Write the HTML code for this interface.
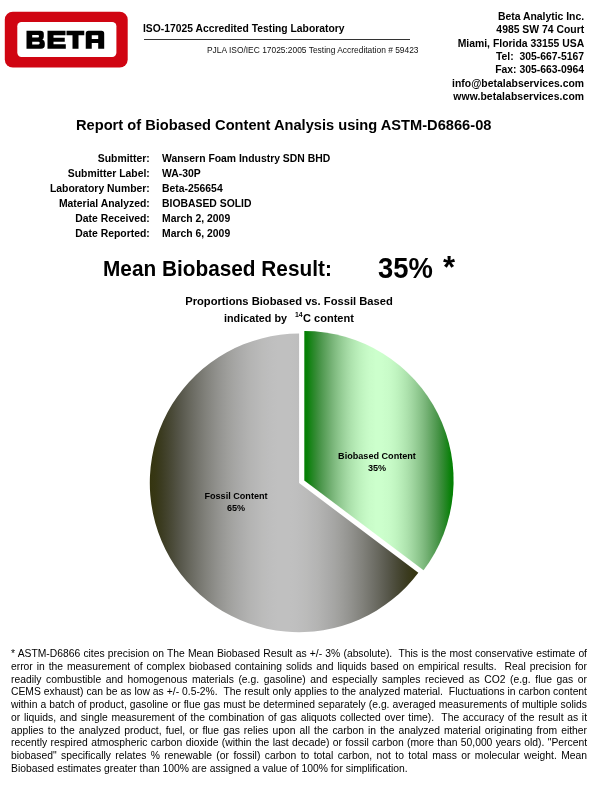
<!DOCTYPE html>
<html><head><meta charset="utf-8">
<style>
html,body{margin:0;padding:0;background:#fff;}
body{width:600px;height:800px;position:relative;overflow:hidden;font-family:"Liberation Sans",sans-serif;color:#000;}
.a{position:absolute;white-space:nowrap;line-height:1;will-change:transform;}
.b{font-weight:bold;}
.r{text-align:right;}
#fn{will-change:transform;position:absolute;left:11px;top:647.6px;width:576px;font-size:10.33px;line-height:12.77px;color:#000;}
#fn div{text-align:justify;text-align-last:justify;white-space:normal;height:12.77px;overflow:visible;}
</style></head><body>
<!-- logo -->
<svg class="a" style="left:0;top:0;" width="140" height="80" viewBox="0 0 140 80">
<rect x="4.8" y="11.7" width="122.9" height="55.8" rx="8" ry="8" fill="#d00512"/>
<rect x="17.3" y="22" width="99.1" height="35" rx="4.2" ry="4.2" fill="#fff"/>
<g fill="#000" fill-rule="evenodd">
<path d="M26.5,30.75 H40.3 Q43.8,30.75 43.8,34 V36.6 Q43.8,38.9 42.3,39.5 Q44.8,40.2 44.8,43 V45 Q44.8,48.75 41,48.75 H26.5 Z M32.2,35 H38 Q39,35 39,36.3 Q39,37.6 38,37.6 H32.2 Z M32.2,41.8 H38.5 Q39.7,41.8 39.7,43.1 Q39.7,44.4 38.5,44.4 H32.2 Z"/>
<path d="M47.5,30.75 H65.5 V35.25 H53.5 V37.8 H64.75 V41.7 H53.5 V44.25 H65.8 V48.75 H47.5 Z"/>
<path d="M66.5,30.75 H84.25 V35.25 H78.5 V48.75 H72.5 V35.25 H66.5 Z"/>
<path d="M85.75,48.75 V33.5 Q85.75,30.75 88.5,30.75 H101.5 Q104.2,30.75 104.2,33.5 V48.75 H98.2 V42.9 H91.75 V48.75 Z M91.75,35.25 H98.2 V39.1 H91.75 Z"/>
</g>
</svg>

<div class="a b" id="iso" style="left:143.2px;top:23.5px;font-size:10.33px;transform-origin:50% 84.65%;transform:scaleY(1.04);">ISO-17025 Accredited Testing Laboratory</div>
<div class="a" style="left:143.6px;top:39px;width:266.4px;height:1px;background:#333;"></div>
<div class="a" id="pjla" style="left:206.6px;top:45.6px;font-size:8.42px;color:#111;transform-origin:50% 84.65%;transform:scaleY(1.04);">PJLA ISO/IEC 17025:2005 Testing Accreditation # 59423</div>

<div class="a b r" id="addr" style="right:15.8px;top:10.46px;font-size:10.4px;line-height:13.33px;">Beta Analytic Inc.<br>4985 SW 74 Court<br>Miami, Florida 33155 USA<br>Tel:&nbsp; 305-667-5167<br>Fax: 305-663-0964<br><span style="letter-spacing:0.03px">info@betalabservices.com</span><br><span style="letter-spacing:0.08px">www.betalabservices.com</span></div>

<div class="a b" id="title" style="left:75.8px;top:118.4px;font-size:14.65px;transform-origin:50% 84.65%;transform:scaleY(1.04);">Report of Biobased Content Analysis using ASTM-D6866-08</div>

<div class="a b r" id="labels" style="left:0;width:149.8px;top:150.7px;font-size:10.4px;line-height:15.09px;">Submitter:<br>Submitter Label:<br>Laboratory Number:<br>Material Analyzed:<br>Date Received:<br>Date Reported:</div>
<div class="a b" id="vals" style="left:162.2px;top:150.7px;font-size:10.4px;line-height:15.09px;">Wansern Foam Industry SDN BHD<br>WA-30P<br>Beta-256654<br>BIOBASED SOLID<br>March 2, 2009<br>March 6, 2009</div>

<div class="a b" id="mean" style="left:102.9px;top:259px;font-size:20.8px;transform-origin:50% 84.65%;transform:scaleY(1.04);">Mean Biobased Result:</div>
<div class="a b" id="pct" style="left:378px;top:252.8px;font-size:27.4px;transform-origin:0 3.4px;transform:scaleY(1.08);">35%</div>
<div class="a b" id="ast" style="left:443.4px;top:252.2px;font-size:31px;">*</div>

<div class="a b" id="ct1" style="left:139px;width:300px;text-align:center;top:296.1px;font-size:11.2px;transform-origin:50% 84.65%;transform:scaleY(1.04);">Proportions Biobased vs. Fossil Based</div>
<div class="a b" id="ct2a" style="left:223.8px;top:312.7px;font-size:10.8px;transform-origin:50% 84.65%;transform:scaleY(1.04);">indicated by</div>
<div class="a b" id="ct2b" style="left:294.7px;top:311.8px;font-size:6.9px;">14</div>
<div class="a b" id="ct2c" style="left:303px;top:312.5px;font-size:11.05px;transform-origin:50% 84.65%;transform:scaleY(1.04);">C content</div>

<svg class="a" style="left:0;top:0;" width="600" height="800" viewBox="0 0 600 800">
<defs>
<linearGradient id="gg" gradientUnits="userSpaceOnUse" x1="149.8" y1="0" x2="418.4" y2="0">
<stop offset="0.0000" stop-color="#353510"/>
<stop offset="0.0208" stop-color="#373715"/>
<stop offset="0.0417" stop-color="#3b3b20"/>
<stop offset="0.0625" stop-color="#42422c"/>
<stop offset="0.0833" stop-color="#4a4a38"/>
<stop offset="0.1042" stop-color="#535345"/>
<stop offset="0.1250" stop-color="#5c5c51"/>
<stop offset="0.1458" stop-color="#66665c"/>
<stop offset="0.1667" stop-color="#6f6f67"/>
<stop offset="0.1875" stop-color="#787871"/>
<stop offset="0.2083" stop-color="#81817b"/>
<stop offset="0.2292" stop-color="#898984"/>
<stop offset="0.2500" stop-color="#91918d"/>
<stop offset="0.2708" stop-color="#989895"/>
<stop offset="0.2917" stop-color="#9f9f9c"/>
<stop offset="0.3125" stop-color="#a5a5a3"/>
<stop offset="0.3333" stop-color="#aaaaa9"/>
<stop offset="0.3542" stop-color="#afafae"/>
<stop offset="0.3750" stop-color="#b4b4b3"/>
<stop offset="0.3958" stop-color="#b7b7b7"/>
<stop offset="0.4167" stop-color="#bbbbba"/>
<stop offset="0.4375" stop-color="#bdbdbd"/>
<stop offset="0.4583" stop-color="#bfbfbf"/>
<stop offset="0.4792" stop-color="#c0c0c0"/>
<stop offset="0.5000" stop-color="#c0c0c0"/>
<stop offset="0.5000" stop-color="#c0c0c0"/>
<stop offset="0.5208" stop-color="#c0c0c0"/>
<stop offset="0.5417" stop-color="#bfbfbf"/>
<stop offset="0.5625" stop-color="#bdbdbd"/>
<stop offset="0.5833" stop-color="#bbbbba"/>
<stop offset="0.6042" stop-color="#b7b7b7"/>
<stop offset="0.6250" stop-color="#b4b4b3"/>
<stop offset="0.6458" stop-color="#afafae"/>
<stop offset="0.6667" stop-color="#aaaaa9"/>
<stop offset="0.6875" stop-color="#a5a5a3"/>
<stop offset="0.7083" stop-color="#9f9f9c"/>
<stop offset="0.7292" stop-color="#989895"/>
<stop offset="0.7500" stop-color="#91918d"/>
<stop offset="0.7708" stop-color="#898984"/>
<stop offset="0.7917" stop-color="#81817b"/>
<stop offset="0.8125" stop-color="#787871"/>
<stop offset="0.8333" stop-color="#6f6f67"/>
<stop offset="0.8542" stop-color="#66665c"/>
<stop offset="0.8750" stop-color="#5c5c51"/>
<stop offset="0.8958" stop-color="#535345"/>
<stop offset="0.9167" stop-color="#4a4a38"/>
<stop offset="0.9375" stop-color="#42422c"/>
<stop offset="0.9583" stop-color="#3b3b20"/>
<stop offset="0.9792" stop-color="#373715"/>
<stop offset="1.0000" stop-color="#353510"/>
</linearGradient>
<linearGradient id="gr" gradientUnits="userSpaceOnUse" x1="304.3" y1="0" x2="453.6" y2="0">
<stop offset="0.0000" stop-color="#008000"/>
<stop offset="0.0208" stop-color="#098109"/>
<stop offset="0.0417" stop-color="#1a841a"/>
<stop offset="0.0625" stop-color="#2a882a"/>
<stop offset="0.0833" stop-color="#398d39"/>
<stop offset="0.1042" stop-color="#479447"/>
<stop offset="0.1250" stop-color="#549c54"/>
<stop offset="0.1458" stop-color="#60a460"/>
<stop offset="0.1667" stop-color="#6cac6c"/>
<stop offset="0.1875" stop-color="#78b478"/>
<stop offset="0.2083" stop-color="#82bd82"/>
<stop offset="0.2292" stop-color="#8cc58c"/>
<stop offset="0.2500" stop-color="#95cd95"/>
<stop offset="0.2708" stop-color="#9ed49e"/>
<stop offset="0.2917" stop-color="#a6dba6"/>
<stop offset="0.3125" stop-color="#ade2ad"/>
<stop offset="0.3333" stop-color="#b3e8b3"/>
<stop offset="0.3542" stop-color="#b9edb9"/>
<stop offset="0.3750" stop-color="#bef2be"/>
<stop offset="0.3958" stop-color="#c2f6c2"/>
<stop offset="0.4167" stop-color="#c6f9c6"/>
<stop offset="0.4375" stop-color="#c9fcc9"/>
<stop offset="0.4583" stop-color="#cafdca"/>
<stop offset="0.4792" stop-color="#ccffcc"/>
<stop offset="0.5000" stop-color="#ccffcc"/>
<stop offset="0.5000" stop-color="#ccffcc"/>
<stop offset="0.5208" stop-color="#ccffcc"/>
<stop offset="0.5417" stop-color="#cafdca"/>
<stop offset="0.5625" stop-color="#c9fcc9"/>
<stop offset="0.5833" stop-color="#c6f9c6"/>
<stop offset="0.6042" stop-color="#c2f6c2"/>
<stop offset="0.6250" stop-color="#bef2be"/>
<stop offset="0.6458" stop-color="#b9edb9"/>
<stop offset="0.6667" stop-color="#b3e8b3"/>
<stop offset="0.6875" stop-color="#ade2ad"/>
<stop offset="0.7083" stop-color="#a6dba6"/>
<stop offset="0.7292" stop-color="#9ed49e"/>
<stop offset="0.7500" stop-color="#95cd95"/>
<stop offset="0.7708" stop-color="#8cc58c"/>
<stop offset="0.7917" stop-color="#82bd82"/>
<stop offset="0.8125" stop-color="#78b478"/>
<stop offset="0.8333" stop-color="#6cac6c"/>
<stop offset="0.8542" stop-color="#60a460"/>
<stop offset="0.8750" stop-color="#549c54"/>
<stop offset="0.8958" stop-color="#479447"/>
<stop offset="0.9167" stop-color="#398d39"/>
<stop offset="0.9375" stop-color="#2a882a"/>
<stop offset="0.9583" stop-color="#1a841a"/>
<stop offset="0.9792" stop-color="#098109"/>
<stop offset="1.0000" stop-color="#008000"/>
</linearGradient>
</defs>
<path id="gray" d="M299.1,482.9 L418.34,572.75 A149.3,149.3 0 1 1 299.1,333.6 Z" fill="url(#gg)"/>
<path id="green" d="M304.3,480.4 L304.3,331.1 A149.3,149.3 0 0 1 423.54,570.25 Z" fill="url(#gr)"/>
</svg>

<div class="a b" id="lb1" style="left:277.1px;width:200px;text-align:center;top:452.1px;font-size:9.1px;transform-origin:50% 7.7px;transform:scaleY(1.08);">Biobased Content</div>
<div class="a b" id="lb2" style="left:277.1px;width:200px;text-align:center;top:464.1px;font-size:9.1px;transform-origin:50% 7.7px;transform:scaleY(1.08);">35%</div>
<div class="a b" id="lf1" style="left:136.1px;width:200px;text-align:center;top:492.1px;font-size:9.1px;transform-origin:50% 7.7px;transform:scaleY(1.08);">Fossil Content</div>
<div class="a b" id="lf2" style="left:136.1px;width:200px;text-align:center;top:504.1px;font-size:9.1px;transform-origin:50% 7.7px;transform:scaleY(1.08);">65%</div>

<div id="fn">
<div>* ASTM-D6866 cites precision on The Mean Biobased Result as +/- 3% (absolute).&nbsp; This is the most conservative estimate of</div>
<div>error in the measurement of complex biobased containing solids and liquids based on empirical results.&nbsp; Real precision for</div>
<div>readily combustible and homogenous materials (e.g. gasoline) and especially samples recieved as CO2 (e.g. flue gas or</div>
<div>CEMS exhaust) can be as low as +/- 0.5-2%.&nbsp; The result only applies to the analyzed material.&nbsp; Fluctuations in carbon content</div>
<div>within a batch of product, gasoline or flue gas must be determined separately (e.g. averaged measurements of multiple solids</div>
<div>or liquids, and single measurement of the combination of gas aliquots collected over time).&nbsp; The accuracy of the result as it</div>
<div>applies to the analyzed product, fuel, or flue gas relies upon all the carbon in the analyzed material originating from either</div>
<div>recently respired atmospheric carbon dioxide (within the last decade) or fossil carbon (more than 50,000 years old). "Percent</div>
<div>biobased" specifically relates % renewable (or fossil) carbon to total carbon, not to total mass or molecular weight. Mean</div>
<div style="text-align-last:left;">Biobased estimates greater than 100% are assigned a value of 100% for simplification.</div>
</div>
</body></html>
